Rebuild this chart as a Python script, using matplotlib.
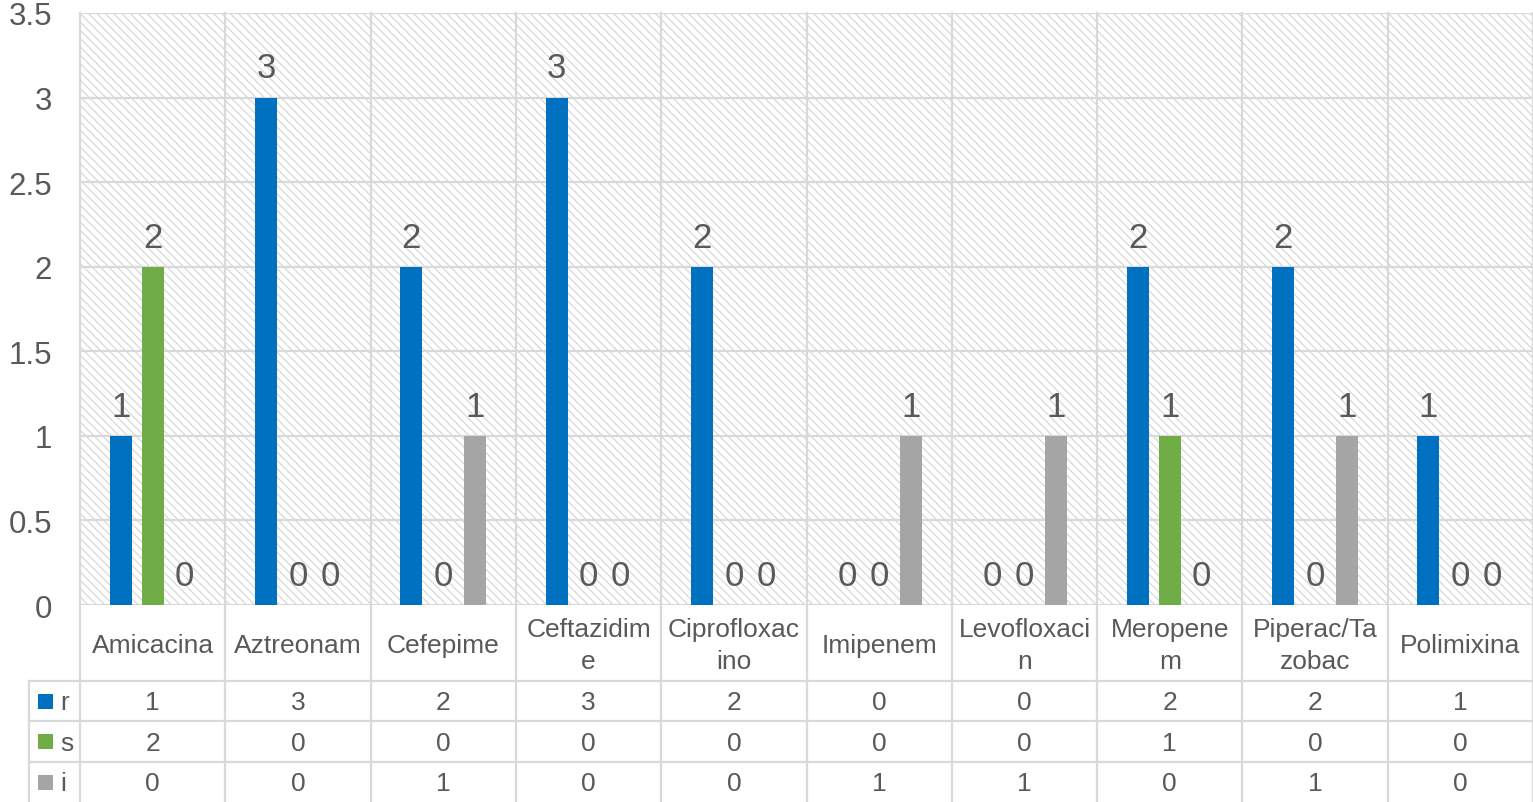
import matplotlib
matplotlib.use("Agg")
import matplotlib.pyplot as plt
from matplotlib.patches import Rectangle
from matplotlib.lines import Line2D
import numpy as np

categories = ["Amicacina", "Aztreonam", "Cefepime", "Ceftazidime", "Ciprofloxacino",
              "Imipenem", "Levofloxacin", "Meropenem", "Piperac/Tazobac", "Polimixina"]
display_labels = ["Amicacina", "Aztreonam", "Cefepime", "Ceftazidim\ne", "Ciprofloxac\nino",
                  "Imipenem", "Levofloxaci\nn", "Meropene\nm", "Piperac/Ta\nzobac", "Polimixina"]
series_names = ["r", "s", "i"]
r_values = [1, 3, 2, 3, 2, 0, 0, 2, 2, 1]
s_values = [2, 0, 0, 0, 0, 0, 0, 1, 0, 0]
i_values = [0, 0, 1, 0, 0, 1, 1, 0, 1, 0]
yticks = [0, 0.5, 1, 1.5, 2, 2.5, 3, 3.5]
ytick_labels = ["0", "0.5", "1", "1.5", "2", "2.5", "3", "3.5"]

colors = ["#0070C0", "#70AD47", "#A5A5A5"]
series = [r_values, s_values, i_values]
TXT = "#595959"
GRID = "#d9d9d9"

plt.rcParams['font.family'] = ['Liberation Sans', 'DejaVu Sans']
plt.rcParams['hatch.linewidth'] = 0.85

W, H = 1533, 803
fig = plt.figure(figsize=(W / 100, H / 100), dpi=100)
fig.patch.set_facecolor("white")

def fx(px):
    return px / W

def fy(py):
    return 1 - py / H

left, right, top, bottom = 80, 1533, 14, 606
ax = fig.add_axes([fx(left), fy(bottom), fx(right - left), (bottom - top) / H])
n = len(categories)
ax.set_xlim(0, n)
ax.set_ylim(0, 3.5)
ax.set_facecolor("white")

bg = Rectangle((0, 0), 1, 1, transform=ax.transAxes, facecolor="white",
               edgecolor="#d6d6d6", linewidth=0, hatch="\\\\\\\\", zorder=0)
ax.add_patch(bg)

for s in ax.spines.values():
    s.set_visible(False)

for y in yticks:
    ax.axhline(y, color=GRID, lw=1.6, zorder=1)

ax.set_yticks(yticks)
ax.set_yticklabels(ytick_labels, fontsize=22.5, color=TXT)
ax.tick_params(axis='y', length=0, pad=20)
ax.set_xticks([])

bw = 0.152
offs = [-0.22, 0.0, 0.22]
x = np.arange(n) + 0.5
for k, (vals, c) in enumerate(zip(series, colors)):
    ax.bar(x + offs[k], vals, width=bw, color=c, zorder=2)
    for xi, v in zip(x + offs[k], vals):
        ax.annotate(str(v), (xi, v), xytext=(0, 14.5), textcoords="offset points",
                    ha="center", va="baseline", fontsize=25, color=TXT, zorder=3)

# Table & category lines in figure coordinates
cat_w = (right - left) / n
for k in range(n + 1):
    xp = left + k * cat_w
    fig.add_artist(Line2D([fx(xp), fx(xp)], [fy(top), fy(H)], color=GRID, lw=1.6))
fig.add_artist(Line2D([fx(29), fx(29)], [fy(682), fy(H)], color=GRID, lw=1.6))
for yp in [682, 722, 763]:
    fig.add_artist(Line2D([fx(29), fx(right)], [fy(yp), fy(yp)], color=GRID, lw=1.6))

for k, lab in enumerate(display_labels):
    cx = left + (k + 0.5) * cat_w
    fig.text(fx(cx), fy(646), lab, ha="center", va="center", fontsize=19,
             color=TXT, linespacing=1.42)

row_centers = [703.5, 744, 784.5]
for name, vals, c, yc in zip(series_names, series, colors, row_centers):
    fig.add_artist(Rectangle((fx(38), fy(yc + 6)), fx(15), 15 / H, facecolor=c,
                             edgecolor="none", transform=fig.transFigure))
    fig.text(fx(60), fy(yc), name, ha="left", va="center", fontsize=19, color=TXT)
    for k, v in enumerate(vals):
        cx = left + (k + 0.5) * cat_w
        fig.text(fx(cx), fy(yc), str(v), ha="center", va="center", fontsize=19, color=TXT)

fig.savefig("out.png", dpi=100, facecolor="white")
